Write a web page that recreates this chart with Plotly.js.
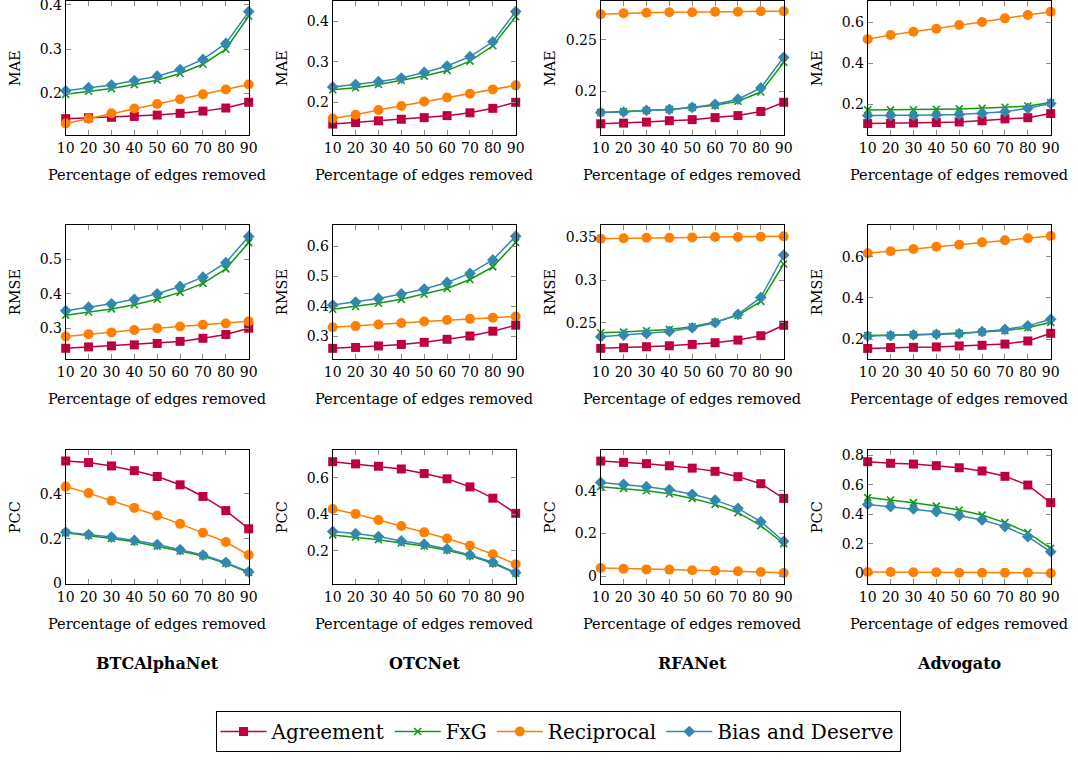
<!DOCTYPE html>
<html>
<head>
<meta charset="utf-8">
<script src="https://cdn.plot.ly/plotly-3.0.1.min.js"></script>
<style>
html,body{margin:0;padding:0;background:#fff;}
#chart{width:1078px;height:762px;}
</style>
</head>
<body>
<div id="chart"></div>
<script>
// ---------------- DATA ----------------
const pct = [10, 20, 30, 40, 50, 60, 70, 80, 90];
const xTickLabels = ['10','20','30','40','50','60','70','80','90'];
const methods = ['Agreement', 'FxG', 'Reciprocal', 'Bias and Deserve'];
const datasets = ['BTCAlphaNet', 'OTCNet', 'RFANet', 'Advogato'];
const metrics = ['MAE', 'RMSE', 'PCC'];
const xTitle = 'Percentage of edges removed';

// BTCAlphaNet
const btc_mae_agreement  = [0.143, 0.145, 0.146, 0.148, 0.151, 0.155, 0.160, 0.167, 0.180];
const btc_mae_fxg        = [0.198, 0.205, 0.211, 0.220, 0.230, 0.245, 0.266, 0.300, 0.375];
const btc_mae_reciprocal = [0.132, 0.143, 0.155, 0.166, 0.176, 0.187, 0.198, 0.209, 0.220];
const btc_mae_bias       = [0.206, 0.213, 0.219, 0.229, 0.239, 0.254, 0.277, 0.313, 0.385];
const btc_rmse_agreement  = [0.242, 0.246, 0.249, 0.252, 0.256, 0.262, 0.271, 0.282, 0.300];
const btc_rmse_fxg        = [0.338, 0.347, 0.356, 0.368, 0.384, 0.404, 0.430, 0.472, 0.548];
const btc_rmse_reciprocal = [0.276, 0.283, 0.288, 0.295, 0.300, 0.305, 0.310, 0.314, 0.320];
const btc_rmse_bias       = [0.351, 0.361, 0.371, 0.384, 0.400, 0.421, 0.448, 0.490, 0.566];
const btc_pcc_agreement  = [0.546, 0.539, 0.524, 0.503, 0.477, 0.440, 0.388, 0.325, 0.244];
const btc_pcc_fxg        = [0.226, 0.214, 0.201, 0.186, 0.167, 0.145, 0.123, 0.090, 0.049];
const btc_pcc_reciprocal = [0.432, 0.403, 0.369, 0.337, 0.303, 0.266, 0.226, 0.185, 0.127];
const btc_pcc_bias       = [0.229, 0.218, 0.207, 0.192, 0.174, 0.151, 0.127, 0.094, 0.052];

// OTCNet
const otc_mae_agreement  = [0.146, 0.150, 0.154, 0.158, 0.162, 0.167, 0.174, 0.185, 0.200];
const otc_mae_fxg        = [0.231, 0.236, 0.244, 0.254, 0.265, 0.279, 0.302, 0.340, 0.412];
const otc_mae_reciprocal = [0.160, 0.169, 0.181, 0.191, 0.202, 0.212, 0.221, 0.232, 0.242];
const otc_mae_bias       = [0.238, 0.244, 0.251, 0.260, 0.274, 0.290, 0.313, 0.350, 0.425];
const otc_rmse_agreement  = [0.260, 0.263, 0.268, 0.273, 0.280, 0.290, 0.301, 0.317, 0.337];
const otc_rmse_fxg        = [0.390, 0.399, 0.410, 0.423, 0.440, 0.459, 0.489, 0.531, 0.612];
const otc_rmse_reciprocal = [0.330, 0.334, 0.339, 0.344, 0.349, 0.354, 0.358, 0.362, 0.366];
const otc_rmse_bias       = [0.404, 0.414, 0.426, 0.441, 0.457, 0.479, 0.509, 0.554, 0.633];
const otc_pcc_agreement  = [0.689, 0.677, 0.664, 0.649, 0.624, 0.595, 0.551, 0.489, 0.406];
const otc_pcc_fxg        = [0.288, 0.277, 0.262, 0.244, 0.227, 0.204, 0.173, 0.132, 0.078];
const otc_pcc_reciprocal = [0.430, 0.403, 0.370, 0.337, 0.302, 0.268, 0.229, 0.182, 0.127];
const otc_pcc_bias       = [0.306, 0.295, 0.279, 0.255, 0.237, 0.211, 0.178, 0.138, 0.081];

// RFANet
const rfa_mae_agreement  = [0.168, 0.1686, 0.1696, 0.171, 0.172, 0.174, 0.176, 0.180, 0.189];
const rfa_mae_fxg        = [0.179, 0.180, 0.181, 0.182, 0.184, 0.186, 0.190, 0.199, 0.228];
const rfa_mae_reciprocal = [0.275, 0.276, 0.2765, 0.277, 0.277, 0.2775, 0.2775, 0.278, 0.278];
const rfa_mae_bias       = [0.179, 0.1795, 0.181, 0.182, 0.184, 0.187, 0.192, 0.203, 0.233];
const rfa_rmse_agreement  = [0.220, 0.2207, 0.2219, 0.223, 0.2246, 0.2266, 0.2297, 0.2348, 0.247];
const rfa_rmse_fxg        = [0.2383, 0.239, 0.2406, 0.2422, 0.2453, 0.2508, 0.2586, 0.275, 0.3188];
const rfa_rmse_reciprocal = [0.3484, 0.349, 0.3496, 0.3496, 0.350, 0.3504, 0.3504, 0.3508, 0.3512];
const rfa_rmse_bias       = [0.2336, 0.2355, 0.2371, 0.2398, 0.2441, 0.250, 0.2598, 0.2797, 0.3293];
const rfa_pcc_agreement  = [0.539, 0.533, 0.527, 0.517, 0.506, 0.491, 0.466, 0.433, 0.364];
const rfa_pcc_fxg        = [0.419, 0.411, 0.400, 0.386, 0.364, 0.336, 0.297, 0.236, 0.152];
const rfa_pcc_reciprocal = [0.0375, 0.034, 0.031, 0.030, 0.027, 0.025, 0.022, 0.019, 0.014];
const rfa_pcc_bias       = [0.439, 0.430, 0.419, 0.405, 0.383, 0.356, 0.317, 0.255, 0.163];

// Advogato
const adv_mae_agreement  = [0.104, 0.105, 0.107, 0.109, 0.112, 0.118, 0.127, 0.133, 0.153];
const adv_mae_fxg        = [0.171, 0.171, 0.172, 0.174, 0.176, 0.179, 0.184, 0.190, 0.207];
const adv_mae_reciprocal = [0.518, 0.538, 0.554, 0.569, 0.587, 0.602, 0.620, 0.636, 0.652];
const adv_mae_bias       = [0.143, 0.143, 0.144, 0.146, 0.149, 0.154, 0.162, 0.179, 0.202];
const adv_rmse_agreement  = [0.156, 0.160, 0.161, 0.163, 0.168, 0.171, 0.177, 0.192, 0.229];
const adv_rmse_fxg        = [0.218, 0.219, 0.2226, 0.2258, 0.229, 0.235, 0.242, 0.256, 0.282];
const adv_rmse_reciprocal = [0.616, 0.626, 0.637, 0.648, 0.658, 0.669, 0.679, 0.689, 0.700];
const adv_rmse_bias       = [0.216, 0.218, 0.221, 0.224, 0.227, 0.237, 0.248, 0.265, 0.297];
const adv_pcc_agreement  = [0.755, 0.744, 0.739, 0.728, 0.714, 0.692, 0.656, 0.597, 0.478];
const adv_pcc_fxg        = [0.512, 0.496, 0.478, 0.455, 0.428, 0.394, 0.343, 0.275, 0.169];
const adv_pcc_reciprocal = [0.009, 0.009, 0.007, 0.007, 0.0045, 0.0045, 0.0045, 0.0045, 0.001];
const adv_pcc_bias       = [0.466, 0.451, 0.435, 0.417, 0.390, 0.361, 0.316, 0.248, 0.146];

// y tick values per panel (row-major: MAE, RMSE, PCC x BTC, OTC, RFA, ADV)
const yTicks = [
  [[0.2,0.3,0.4],[0.2,0.3,0.4],[0.2,0.25],[0.2,0.4,0.6]],
  [[0.3,0.4,0.5],[0.3,0.4,0.5,0.6],[0.25,0.3,0.35],[0.2,0.4,0.6]],
  [[0,0.2,0.4],[0.2,0.4,0.6],[0,0.2,0.4],[0,0.2,0.4,0.6,0.8]]
];
const yTickLabels = [
  [['0.2','0.3','0.4'],['0.2','0.3','0.4'],['0.2','0.25'],['0.2','0.4','0.6']],
  [['0.3','0.4','0.5'],['0.3','0.4','0.5','0.6'],['0.25','0.3','0.35'],['0.2','0.4','0.6']],
  [['0','0.2','0.4'],['0.2','0.4','0.6'],['0','0.2','0.4'],['0','0.2','0.4','0.6','0.8']]
];

const panelData = [
  [ [btc_mae_agreement, btc_mae_fxg, btc_mae_reciprocal, btc_mae_bias],
    [otc_mae_agreement, otc_mae_fxg, otc_mae_reciprocal, otc_mae_bias],
    [rfa_mae_agreement, rfa_mae_fxg, rfa_mae_reciprocal, rfa_mae_bias],
    [adv_mae_agreement, adv_mae_fxg, adv_mae_reciprocal, adv_mae_bias] ],
  [ [btc_rmse_agreement, btc_rmse_fxg, btc_rmse_reciprocal, btc_rmse_bias],
    [otc_rmse_agreement, otc_rmse_fxg, otc_rmse_reciprocal, otc_rmse_bias],
    [rfa_rmse_agreement, rfa_rmse_fxg, rfa_rmse_reciprocal, rfa_rmse_bias],
    [adv_rmse_agreement, adv_rmse_fxg, adv_rmse_reciprocal, adv_rmse_bias] ],
  [ [btc_pcc_agreement, btc_pcc_fxg, btc_pcc_reciprocal, btc_pcc_bias],
    [otc_pcc_agreement, otc_pcc_fxg, otc_pcc_reciprocal, otc_pcc_bias],
    [rfa_pcc_agreement, rfa_pcc_fxg, rfa_pcc_reciprocal, rfa_pcc_bias],
    [adv_pcc_agreement, adv_pcc_fxg, adv_pcc_reciprocal, adv_pcc_bias] ]
];

// ---------------- LAYOUT / STYLE ----------------
const W = 1078, H = 762;
const colLeft = [65.7, 332.7, 600.7, 867.7];
const colW = 183;
const rowTop = [1, 225, 450];
const rowH = 134;
const yRanges = [
  [[0.106, 0.409], [0.119, 0.451], [0.157, 0.288], [0.048, 0.705]],
  [[0.211, 0.599], [0.2246, 0.670], [0.2075, 0.3645], [0.1047, 0.753]],
  [[-0.002, 0.595], [0.019, 0.753], [-0.0375, 0.591], [-0.072, 0.834]]
];

const styles = [
  {color: '#BF0040', symbol: 'square', size: 9, lw: 0},
  {color: '#109A10', symbol: 'x-thin-open', size: 7, lw: 1.6},
  {color: '#FF8000', symbol: 'circle', size: 10, lw: 0},
  {color: '#3388AE', symbol: 'diamond', size: 9, lw: 0}
];

const serif = 'DejaVu Serif, serif';
const traces = [];
const layout = {
  width: W, height: H,
  margin: {l: 0, r: 0, t: 0, b: 0},
  paper_bgcolor: '#fff', plot_bgcolor: '#fff',
  font: {family: serif, color: '#000', size: 14},
  showlegend: true,
  legend: {
    orientation: 'h',
    x: 558 / W, xanchor: 'center',
    y: 1 - 711 / H, yanchor: 'top',
    bordercolor: '#000', borderwidth: 1,
    font: {family: serif, size: 20, color: '#000'},
    itemwidth: 46,
    tracegroupgap: 0
  },
  annotations: []
};

for (let r = 0; r < 3; r++) {
  for (let c = 0; c < 4; c++) {
    const k = r * 4 + c + 1;
    const xa = 'xaxis' + (k === 1 ? '' : k);
    const ya = 'yaxis' + (k === 1 ? '' : k);
    const x0 = colLeft[c], x1 = colLeft[c] + colW;
    const y0 = rowTop[r], y1 = rowTop[r] + rowH;
    layout[xa] = {
      domain: [x0 / W, x1 / W],
      anchor: 'y' + (k === 1 ? '' : k),
      range: [10, 90],
      tickmode: 'array', tickvals: pct, ticktext: xTickLabels,
      tickangle: 0, ticklabeloverflow: 'allow',
      ticks: 'inside', ticklen: 5, tickwidth: 1, tickcolor: '#8a8a8a',
      showline: true, linecolor: '#000', linewidth: 1, mirror: 'ticks',
      showgrid: false, zeroline: false,
      tickfont: {family: serif, size: 14, color: '#000'}
    };
    layout[ya] = {
      domain: [1 - y1 / H, 1 - y0 / H],
      anchor: 'x' + (k === 1 ? '' : k),
      range: yRanges[r][c],
      tickmode: 'array', tickvals: yTicks[r][c], ticktext: yTickLabels[r][c],
      ticklabeloverflow: 'allow',
      ticks: 'inside', ticklen: 5, tickwidth: 1, tickcolor: '#8a8a8a',
      showline: true, linecolor: '#000', linewidth: 1, mirror: 'ticks',
      showgrid: false, zeroline: false,
      tickfont: {family: serif, size: 14, color: '#000'}
    };
    // axis titles as annotations
    layout.annotations.push({
      text: xTitle, xref: 'paper', yref: 'paper', showarrow: false,
      x: (x0 + colW / 2) / W, y: 1 - (y1 + 40) / H,
      xanchor: 'center', yanchor: 'middle',
      font: {family: serif, size: 14.5, color: '#000'}
    });
    layout.annotations.push({
      text: metrics[r], xref: 'paper', yref: 'paper', showarrow: false,
      x: (x0 - 50.5) / W, y: 1 - (y0 + rowH / 2) / H,
      xanchor: 'center', yanchor: 'middle', textangle: -90,
      font: {family: serif, size: 14.5, color: '#000'}
    });
    for (let m = 0; m < 4; m++) {
      const s = styles[m];
      traces.push({
        type: 'scatter', mode: 'lines+markers',
        x: pct, y: panelData[r][c][m],
        xaxis: 'x' + (k === 1 ? '' : k), yaxis: 'y' + (k === 1 ? '' : k),
        name: methods[m], legendgroup: methods[m],
        showlegend: k === 1,
        cliponaxis: false,
        line: {color: s.color, width: 1.5},
        marker: {color: s.color, symbol: s.symbol, size: s.size,
                 line: {color: s.color, width: s.lw}}
      });
    }
  }
}
// column (dataset) titles
for (let c = 0; c < 4; c++) {
  layout.annotations.push({
    text: '<b>' + datasets[c] + '</b>', xref: 'paper', yref: 'paper', showarrow: false,
    x: (colLeft[c] + colW / 2) / W, y: 1 - 663 / H,
    xanchor: 'center', yanchor: 'middle',
    font: {family: serif, size: 16, color: '#000'}
  });
}

Plotly.newPlot('chart', traces, layout, {staticPlot: true, displayModeBar: false});
</script>
</body>
</html>
